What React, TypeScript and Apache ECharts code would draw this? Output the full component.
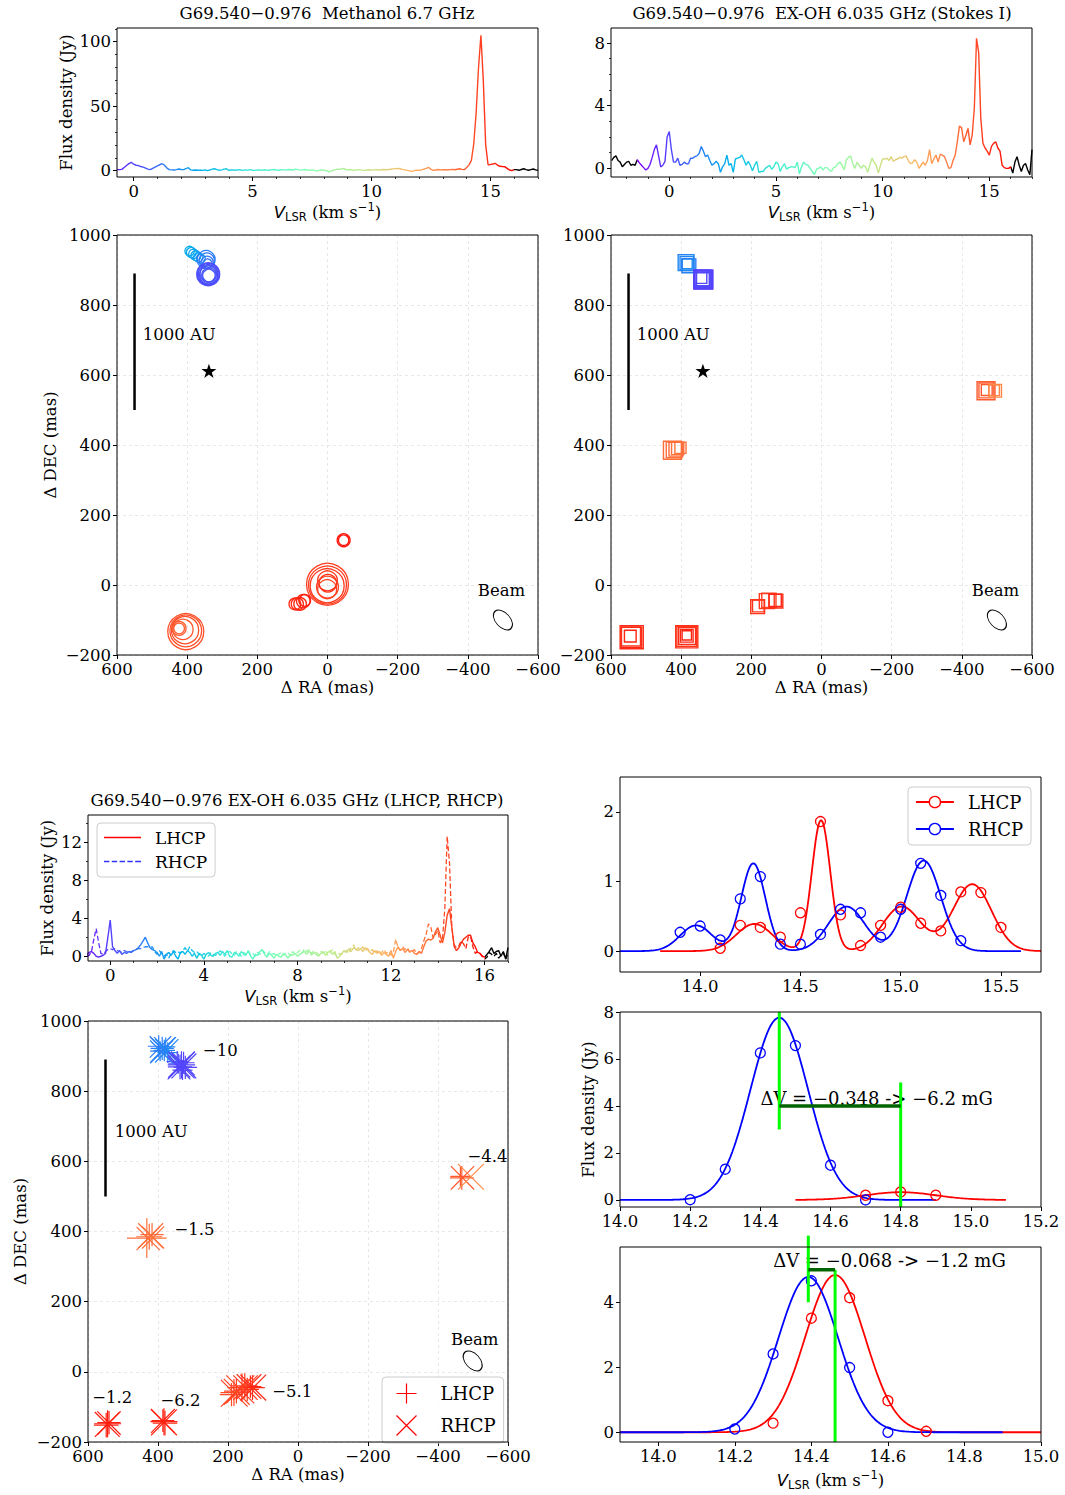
import React, { useEffect, useRef } from 'react';
import * as echarts from 'echarts';

// ================= DATA =================
// Spectra: channel spacing and flux densities (Jy)
const CHAN_STEP = 0.1;
const METHANOL_V0 = -0.7;
const METHANOL_FLUX = [
  0.8, 0.8, 1.0, 2.5, 4.0, 5.5, 6.5, 5.0, 4.2, 4.0,
  3.2, 2.8, 2.0, 1.2, 0.8, 1.8, 2.8, 3.8, 4.6, 5.4,
  4.2, 2.0, 0.8, 0.6, 0.5, 0.8, 1.3, 0.9, 0.8, 1.6,
  2.3, 0.6, 0.3, 0.5, 0.3, 0.4, 0.2, 0.6, 0.0, 0.5,
  1.2, 1.5, 0.8, 0.3, 0.6, 1.2, 1.5, 0.3, 0.5, 0.6,
  0.3, 0.8, 0.5, 0.2, 0.6, 0.4, 0.8, 0.3, 0.2, 0.6,
  0.5, 0.2, 0.7, 0.4, 0.3, 0.6, 0.9, 0.5, 0.3, 0.8,
  0.6, 0.4, 0.9, 0.7, 0.5, 1.2, 0.8, 0.4, 0.6, 0.9,
  0.5, 0.2, 0.6, 0.3, -0.3, 0.2, 0.5, 0.4, 0.0, -0.8,
  -0.3, 0.5, 0.8, 1.2, 1.0, 1.8, 1.1, 0.6, 0.9, 0.5,
  0.3, 0.6, 0.8, 0.4, 0.2, 0.5, 0.7, 0.4, 0.6, 0.8,
  0.5, 0.6, 0.9, 0.7, 0.8, 1.1, 1.4, 1.6, 1.8, 1.5,
  1.0, 0.6, 0.2, -0.2, -0.5, 0.0, 0.4, 0.2, 0.6, 1.2,
  1.8, 2.6, 1.0, 0.3, 0.5, 0.9, 0.6, 0.7, 0.8, 0.5,
  0.8, 1.0, 0.7, 1.1, 1.5, 1.0, 0.8, 2.5, 4.5, 8.0,
  21, 45, 80, 105, 70, 20, 4.6, 4.8, 5.2, 5.7,
  4.2, 3.4, 3.2, 3.1, 1.8, 0.5, 0.0, 0.8, 0.8, 0.3,
  0.9, 1.5, 0.8, 0.3, 0.8, 1.3, 0.6, 0.3,
];
const STOKESI_V0 = -2.7;
const STOKESI_FLUX = [
  0.5, 0.7, 0.8, 0.5, 0.4, 0.1, 0.25, 0.4, 0.45, 0.2,
  0.25, 0.2, 0.55, 0.35, 0.2, 0.05, -0.1, 0.0, 0.25, 0.7,
  1.2, 1.5, 0.8, 0.1, 0.2, 0.45, 2.0, 2.35, 1.2, 0.4,
  0.4, 0.65, 0.2, 0.25, 0.4, 0.3, 0.3, 0.65, 0.65, 0.75,
  0.8, 0.95, 1.4, 1.1, 0.75, 0.85, 0.5, 0.2, 0.3, 0.45,
  0.3, -0.25, 0.1, 0.3, 0.85, 0.2, 0.3, -0.25, 0.6, 0.65,
  0.7, 0.85, 0.55, 0.2, 0.45, 0.2, -0.15, 0.2, 0.45, -0.25,
  -0.2, -0.2, 0.0, 0.1, 0.2, -0.05, 0.1, 0.4, 0.3, -0.2,
  0.1, 0.3, -0.05, 0.05, 0.1, 0.1, 0.05, 0.4, -0.35, 0.1,
  0.4, 0.25, 0.2, 0.0, -0.2, -0.4, -0.05, 0.0, 0.1, -0.1,
  0.05, 0.05, -0.1, -0.2, 0.05, 0.1, 0.3, 0.4, 0.2, -0.1,
  0.55, 0.7, 0.8, 0.3, 0.0, 0.4, 0.2, 0.0, 0.2, 0.1,
  -0.25, 0.2, 0.65, 0.4, 0.2, -0.3, 0.2, 0.6, 0.6, 0.65,
  0.5, 0.75, 0.45, 0.55, 0.6, 0.7, 0.65, 0.75, 0.8, 0.5,
  0.3, 0.35, 0.55, 0.4, 0.0, 0.2, 0.4, 0.2, 0.5, 1.2,
  0.3, 0.6, 0.85, 0.4, 0.9, 0.85, 0.75, 0.4, 0.0, 0.05,
  0.5, 0.85, 1.7, 2.7, 2.6, 1.7, 2.1, 2.55, 1.5, 2.15,
  3.9, 8.3, 7.4, 3.2, 1.6, 1.3, 1.1, 0.85, 1.4, 1.6,
  1.7, 1.3, 1.1, 0.2, 0.05, 0.0, 0.0, 0.1, -0.3, 0.4,
  0.75, 0.2, -0.2, 0.2, 0.3, -0.1, -0.4, 1.2,
];
const POL_V0 = -1.0;
const LHCP_FLUX = [
  0.2, 0.4, 0.5, 0.3, 0.0, -0.1, 0.0, 0.1, 0.3, 2.0,
  3.8, 1.0, 0.6, 0.3, 0.6, 0.2, 0.4, 0.3, 0.5, 0.4,
  0.6, 0.7, 0.9, 1.2, 1.6, 2.0, 1.4, 0.9, 0.7, 0.6,
  0.4, 0.0, 0.5, -0.3, 0.2, 0.4, 0.1, 0.5, 0.0, -0.3,
  0.4, 0.5, 0.2, 0.6, 0.4, 0.0, 0.3, -0.2, 0.3, 0.1,
  -0.3, 0.2, 0.4, 0.1, 0.0, 0.3, 0.4, 0.1, 0.5, 0.2,
  0.6, 0.0, -0.1, 0.4, 0.3, 0.0, 0.5, 0.2, 0.1, 0.6,
  0.0, -0.3, 0.2, 0.1, 0.5, 0.7, 0.2, -0.1, 0.3, 0.1,
  -0.2, 0.2, 0.0, -0.1, 0.3, 0.1, -0.2, 0.2, 0.1, 0.3,
  0.0, 0.2, 0.4, 0.5, 0.2, 0.6, 0.1, 0.4, 0.2, 0.0,
  0.3, 0.5, 0.1, 0.4, 0.6, 0.2, 0.5, -0.2, 0.0, 0.3,
  0.6, 0.4, 0.8, 0.5, 0.9, 0.7, 0.6, 0.8, 0.5, 0.9,
  0.7, 0.4, 0.2, 0.6, 0.3, 0.5, 0.1, 0.4, 0.2, 0.0,
  0.6, -0.2, 0.5, 1.0, 0.6, 0.8, 0.4, 0.7, 0.5, 0.6,
  0.3, 0.2, 0.5, 0.3, 1.0, 1.6, 1.8, 1.7, 1.9, 2.6,
  3.0, 2.2, 1.4, 2.5, 4.3, 5.0, 3.0, 1.0, 0.6, 0.9,
  1.4, 1.8, 2.0, 2.2, 2.2, 1.4, 1.0, 0.4, 0.3, 0.0,
  -0.1, 0.2, 0.5, 0.9, 0.3, 0.5, 0.6, 0.0, 0.5, -0.3,
  0.9,
];
const RHCP_FLUX = [
  0.0, 0.1, 0.5, 1.8, 2.9, 1.5, 0.3, 0.2, 0.5, 0.7,
  0.8, 0.7, 0.8, 0.6, 0.5, 0.4, 0.6, 0.5, 0.3, 0.5,
  0.6, 0.7, 0.8, 0.8, 0.9, 1.0, 1.0, 0.9, 1.0, 0.5,
  0.2, 0.6, 0.3, 0.0, 0.2, -0.2, 0.3, 0.6, 0.4, 0.5,
  0.3, 0.6, 0.9, 0.5, 1.0, 0.6, 0.4, 0.5, 0.2, 0.0,
  0.3, 0.1, 0.0, 0.4, 0.2, 0.1, 0.3, 0.6, 0.3, 0.0,
  0.4, 0.5, 0.3, 0.1, 0.5, 0.3, 0.0, 0.4, 0.2, 0.5,
  0.1, 0.3, 0.0, 0.4, 0.2, 0.6, 0.4, 0.1, 0.5, 0.2,
  0.3, 0.0, 0.2, 0.4, 0.1, 0.3, 0.4, 0.0, 0.5, 0.2,
  0.4, 0.6, 0.3, 0.8, 0.5, 0.7, 0.3, 0.6, 0.4, 0.2,
  0.5, 0.3, 0.6, 0.1, 0.4, 0.7, 0.2, 0.0, 0.3, 0.2,
  0.4, 0.6, 0.3, 0.9, 1.2, 0.6, 0.9, 0.7, 1.0, 0.6,
  0.8, 0.5, 0.7, 0.3, 0.6, 0.2, 0.4, 0.7, 0.3, 0.5,
  0.1, 0.4, 1.8, 0.9, 0.6, 1.0, 0.7, 0.9, 0.4, 0.5,
  0.7, 0.2, 0.4, 0.8, 1.6, 2.3, 3.4, 3.1, 1.9, 2.3,
  2.7, 1.4, 1.8, 5.0, 12.6, 9.8, 3.0, 1.2, 0.9, 1.1,
  1.6, 1.3, 0.8, 2.0, 2.1, 1.0, 0.3, 0.5, 0.3, 0.0,
  -0.3, -0.1, 0.4, 0.2, 0.0, 0.3, -0.2, 0.1, 0.4, -0.3,
  0.3,
];

// Spot maps: [dRA (mas), dDEC (mas), Vlsr (km/s), flux (Jy)]
const METHANOL_SPOTS = [
  [393, 954, 2.7, 1.6], [388, 950, 2.6, 1.9], [382, 946, 2.5, 1.6], [375, 941, 2.4, 1.9], [368, 936, 2.3, 1.5], [361, 932, 2.2, 1.2],
  [346, 930, 1.4, 13], [344, 927, 1.3, 8], [343, 922, 1.2, 4], [342, 918, 1.1, 1.5],
  [340, 888, 0.2, 25], [340, 888, 0.25, 21], [340, 887, 0.3, 17], [339, 886, 0.15, 13], [340, 889, 0.35, 10], [338, 885, 0.4, 7], [338, 884, 0.45, 4.5],
  [-46, 128, 15.6, 4.9], [-46, 128, 15.5, 2.3],
  [0, 2, 14.6, 105], [0, 0, 14.65, 84], [1, -2, 14.7, 65], [0, 12, 14.8, 17], [-1, 5, 14.9, 12], [0, -6, 14.55, 22], [1, -12, 14.5, 15],
  [93, -54, 14.9, 3.5], [86, -54, 15.0, 4], [78, -54, 15.1, 4.5], [69, -46, 15.2, 5.5], [65, -44, 15.3, 3.5],
  [404, -133, 14.2, 74], [404, -131, 14.25, 55], [406, -129, 14.3, 38], [412, -127, 14.1, 18], [423, -124, 14.0, 6], [423, -124, 13.9, 2.5],
];
const OH_SPOTS = [
  [386, 921, 1.7, 3.2], [384, 919, 1.6, 1.8], [383, 918, 1.8, 0.5], [378, 912, 1.5, 2.0], [381, 915, 1.6, 1.0],
  [337, 873, 0.0, 5.8], [338, 874, 0.05, 4.2], [339, 875, -0.05, 2.8], [345, 880, 0.1, 1.4], [342, 877, 0.2, 3.0], [336, 872, -0.1, 4.8], [337, 873, 0.1, 1.8],
  [-469, 555, 14.0, 4.8], [-470, 556, 13.9, 2.6], [-471, 557, 14.1, 0.7], [-495, 555, 12.8, 1.4], [-492, 556, 12.9, 0.6],
  [425, 385, 13.5, 4.8], [420, 386, 13.4, 3.2], [415, 388, 13.6, 2.0], [402, 392, 13.3, 0.8], [410, 390, 13.5, 1.2],
  [182, -62, 14.8, 2.0], [180, -60, 14.9, 1.0], [156, -46, 14.7, 2.6], [150, -44, 14.6, 2.2], [130, -46, 15.0, 2.0], [132, -44, 15.1, 1.2],
  [541, -149, 15.0, 10.2], [542, -150, 15.1, 7.4], [543, -147, 14.9, 5.8], [545, -146, 15.2, 1.0],
  [384, -148, 14.9, 9.0], [384, -147, 14.8, 6.5], [383, -146, 15.0, 4.0], [384, -145, 15.1, 1.4], [384, -144, 15.2, 0.3],
];
const LHCP_SPOTS = [
  [388, 922, 1.5, 2.0], [382, 916, 1.6, 1.4], [394, 914, 1.4, 1.0], [378, 926, 1.7, 0.8], [398, 928, 1.3, 1.5], [372, 910, 1.8, 1.2],
  [333, 875, 0.0, 3.7], [337, 869, 0.1, 2.4], [327, 881, -0.1, 1.6], [342, 878, 0.2, 1.0], [322, 868, 0.05, 2.0], [345, 884, 0.15, 1.4], [330, 860, 0.0, 1.0],
  [-468, 553, 13.9, 2.2], [-464, 557, 14.0, 1.0],
  [425, 385, 13.5, 3.0], [432, 381, 13.4, 12.0], [417, 391, 13.6, 2.0],
  [183, -59, 14.4, 3.5], [176, -55, 14.5, 2.5], [160, -45, 14.6, 4.5], [152, -40, 14.7, 2.8], [130, -45, 15.0, 2.5], [136, -42, 15.2, 1.6], [190, -65, 14.3, 2.0], [145, -50, 14.8, 2.0],
  [544, -148, 15.3, 3.5], [540, -145, 15.4, 2.0], [548, -152, 15.2, 2.5],
  [383, -142, 15.2, 3.5], [386, -139, 15.3, 1.8], [380, -146, 15.1, 2.5],
];
const RHCP_SPOTS = [
  [386, 918, 1.5, 2.5], [380, 923, 1.6, 1.5], [393, 926, 1.4, 1.4], [375, 915, 1.7, 2.0], [390, 912, 1.5, 1.8],
  [333, 874, 0.0, 3.2], [329, 879, 0.1, 2.2], [339, 870, -0.1, 1.5], [326, 872, 0.05, 2.6], [340, 866, 0.15, 1.8],
  [-470, 553, 14.0, 2.0], [-494, 556, 12.8, 3.0],
  [421, 388, 13.5, 2.6], [414, 383, 13.4, 1.6], [428, 380, 13.6, 2.0],
  [182, -61, 14.4, 3.4], [165, -50, 14.5, 4.0], [150, -45, 14.6, 2.4], [128, -45, 15.1, 3.0], [175, -57, 14.45, 3.0], [140, -42, 14.9, 2.5],
  [545, -150, 15.3, 2.6], [540, -146, 15.4, 2.0],
  [383, -144, 15.2, 3.0], [386, -140, 15.3, 2.2],
];
const STAR_POS = [338, 612];
const SCALE_BAR = [[550, 500], [550, 890]];
const BEAM_POS = [-500, -100];
const BEAM_LABEL_POS = [-496, -16];
const AU_LABEL_POS = [527, 717];
const BEAM_POS_POL = [-499, 31];
const BEAM_LABEL_POS_POL = [-505, 93];
const AU_LABEL_POS_POL = [524, 685];
// Zeeman B-field labels (mG) and their positions
const B_FIELD = [-10, -4.4, -1.5, -5.1, -1.2, -6.2];
const B_FIELD_RA = [272, -484, 353, 74, 588, 393];
const B_FIELD_DEC = [915, 615, 406, -55, -74, -83];

// Gaussian fits panel 1 (channels, fluxes, Gaussian components)
const FIT1_LHCP_V = [14.1, 14.2, 14.3, 14.4, 14.5, 14.6, 14.7, 14.8, 14.9, 15.0, 15.1, 15.2, 15.3, 15.4, 15.5];
const FIT1_LHCP_F = [0.04, 0.37, 0.34, 0.2, 0.55, 1.86, 0.52, 0.08, 0.37, 0.63, 0.4, 0.29, 0.85, 0.84, 0.34];
const FIT1_RHCP_V = [13.9, 14.0, 14.1, 14.2, 14.3, 14.4, 14.5, 14.6, 14.7, 14.8, 14.9, 15.0, 15.1, 15.2, 15.3];
const FIT1_RHCP_F = [0.27, 0.36, 0.16, 0.75, 1.07, 0.1, 0.1, 0.24, 0.6, 0.55, 0.2, 0.6, 1.26, 0.8, 0.15];
const FIT1_LHCP_AMP = [0.39, 1.88, 0.64, 0.96];
const FIT1_LHCP_CEN = [14.27, 14.603, 15.005, 15.357];
const FIT1_LHCP_SIG = [0.09, 0.046, 0.095, 0.096];
const FIT1_RHCP_AMP = [0.37, 1.26, 0.64, 1.30];
const FIT1_RHCP_CEN = [13.98, 14.265, 14.73, 15.115];
const FIT1_RHCP_SIG = [0.08, 0.06, 0.091, 0.085];
// panel 2
const FIT2_RHCP_V = [14.2, 14.3, 14.4, 14.5, 14.6, 14.7];
const FIT2_RHCP_F = [0.01, 1.31, 6.26, 6.57, 1.48, 0.0];
const FIT2_LHCP_V = [14.7, 14.8, 14.9];
const FIT2_LHCP_F = [0.2, 0.34, 0.2];
const FIT2_RHCP_G = [7.76, 14.454, 0.082];
const FIT2_LHCP_G = [0.33, 14.80, 0.10];
// panel 3
const FIT3_RHCP_V = [14.2, 14.3, 14.4, 14.5, 14.6];
const FIT3_RHCP_F = [0.1, 2.41, 4.66, 1.99, 0.0];
const FIT3_LHCP_V = [14.3, 14.4, 14.5, 14.6, 14.7];
const FIT3_LHCP_F = [0.28, 3.51, 4.14, 0.97, 0.03];
const FIT3_RHCP_G = [4.78, 14.392, 0.078];
const FIT3_LHCP_G = [4.84, 14.462, 0.078];
const DV_TEXT_2 = 'ΔV = −0.348 -> −6.2 mG';
const DV_TEXT_3 = 'ΔV = −0.068 -> −1.2 mG';

// Ticks
const TICKS_METH_X = [0, 5, 10, 15];
const TICKS_METH_XM = [1, 2, 3, 4, 6, 7, 8, 9, 11, 12, 13, 14, 16, 17];
const TICKS_METH_Y = [0, 50, 100];
const TICKS_METH_YM = [10, 20, 30, 40, 60, 70, 80, 90, 110];
const TICKS_SI_X = [0, 5, 10, 15];
const TICKS_SI_XM = [-2, -1, 1, 2, 3, 4, 6, 7, 8, 9, 11, 12, 13, 14, 16, 17];
const TICKS_SI_Y = [0, 4, 8];
const TICKS_SI_YM = [1, 2, 3, 5, 6, 7];
const TICKS_POL_X = [0, 4, 8, 12, 16];
const TICKS_POL_XM = [1, 2, 3, 5, 6, 7, 9, 10, 11, 13, 14, 15, 17];
const TICKS_POL_Y = [0, 4, 8, 12];
const TICKS_POL_YM = [2, 6, 10, 14];
const TICKS_RA = [-600, -400, -200, 0, 200, 400, 600];
const TICKS_DEC = [-200, 0, 200, 400, 600, 800, 1000];
const TICKS_F1_X = [14.0, 14.5, 15.0, 15.5];
const TICKS_F1_Y = [0, 1, 2];
const TICKS_F2_X = [14.0, 14.2, 14.4, 14.6, 14.8, 15.0, 15.2];
const TICKS_F2_Y = [0, 2, 4, 6, 8];
const TICKS_F3_X = [14.0, 14.2, 14.4, 14.6, 14.8, 15.0];
const TICKS_F3_Y = [0, 2, 4];

// ================= STYLE / HELPERS =================
const FONT = 'DejaVu Serif';
const SANS = 'DejaVu Sans';
const FS = 16.5;
const RAINBOW = ['#8000ff', '#4062fa', '#00b4ec', '#40ecd4', '#80ffb4', '#bfec8e', '#ffb462', '#ff6232', '#ff0000'];
const V_MIN = -1.5;
const V_MAX = 16;
const COLOR_STEP = 0.1;

const STAR_SYMBOL = 'path://M0,-1L0.2245,-0.309L0.951,-0.309L0.363,0.118L0.588,0.809L0,0.382L-0.588,0.809L-0.363,0.118L-0.951,-0.309L-0.2245,-0.309Z';
const ELLIPSE_SYMBOL = 'path://M0,-1C0.552,-1,1,-0.552,1,0C1,0.552,0.552,1,0,1C-0.552,1,-1,0.552,-1,0C-1,-0.552,-0.552,-1,0,-1Z';
const PLUS_SYMBOL = 'path://M0,-1L0,1M-1,0L1,0';
const CROSS_SYMBOL = 'path://M-1,-1L1,1M-1,1L1,-1';
const LEGEND_SOLID = 'path://M0,0L38,0L38,1.5L0,1.5Z';
const LEGEND_DASHED = 'path://M0,0L5.5,0L5.5,1.5L0,1.5ZM8,0L13.5,0L13.5,1.5L8,1.5ZM16,0L21.5,0L21.5,1.5L16,1.5ZM24,0L29.5,0L29.5,1.5L24,1.5ZM32,0L38,0L38,1.5L32,1.5Z';

const fmt = (v: number, dec: number) => {
  const s = v.toFixed(dec);
  return s.charAt(0) === '-' ? '\u2212' + s.slice(1) : s;
};

function hexRgb(h: string) {
  return [parseInt(h.slice(1, 3), 16), parseInt(h.slice(3, 5), 16), parseInt(h.slice(5, 7), 16)];
}
function velColor(v: number) {
  let t = (v - V_MIN) / (V_MAX - V_MIN);
  t = Math.max(0, Math.min(1, t));
  const p = t * (RAINBOW.length - 1);
  const i = Math.min(Math.floor(p), RAINBOW.length - 2);
  const f = p - i;
  const a = hexRgb(RAINBOW[i]);
  const b = hexRgb(RAINBOW[i + 1]);
  const c = a.map((x, k) => Math.round(x + (b[k] - x) * f));
  return `rgb(${c[0]},${c[1]},${c[2]})`;
}
function velocityPieces() {
  const pieces: any[] = [{ lt: V_MIN, color: '#000000' }];
  const n = Math.round((V_MAX - V_MIN) / COLOR_STEP);
  for (let k = 0; k < n; k++) {
    const a = Math.round((V_MIN + k * COLOR_STEP) * 100) / 100;
    const b = Math.round((V_MIN + (k + 1) * COLOR_STEP) * 100) / 100;
    pieces.push({ gte: a, lt: b, color: velColor((a + b) / 2) });
  }
  pieces.push({ gte: V_MAX, color: '#000000' });
  return pieces;
}

const spec = (v0: number, flux: number[]) => flux.map((f, i) => [Math.round((v0 + i * CHAN_STEP) * 10) / 10, f]);
const pairs = (xs: number[], ys: number[]) => xs.map((x, i) => [x, ys[i]]);
function gaussCurve(from: number, to: number, amp: number[], cen: number[], sig: number[]) {
  const pts: number[][] = [];
  const n = Math.round((to - from) / 0.005);
  for (let k = 0; k <= n; k++) {
    const x = from + k * 0.005;
    let y = 0;
    for (let j = 0; j < amp.length; j++) y += amp[j] * Math.exp(-((x - cen[j]) ** 2) / (2 * sig[j] * sig[j]));
    pts.push([x, y]);
  }
  return pts;
}

const GRIDS = [
  { left: 117, top: 28, width: 421, height: 149 },
  { left: 611, top: 28, width: 421, height: 149 },
  { left: 117, top: 235, width: 421, height: 420 },
  { left: 611, top: 235, width: 421, height: 420 },
  { left: 88, top: 815, width: 420, height: 146 },
  { left: 88, top: 1021, width: 420, height: 421 },
  { left: 620, top: 777, width: 421, height: 195 },
  { left: 620, top: 1012, width: 421, height: 195 },
  { left: 620, top: 1247, width: 421, height: 195 },
];

const VLSR_NAME = '{i|V}{s|LSR}{n| (km s}{p|\u22121}{n|)}';
const VLSR_RICH = {
  i: { fontFamily: SANS, fontStyle: 'italic', fontSize: FS, lineHeight: 22, color: '#000' },
  s: { fontFamily: SANS, fontSize: 11.5, verticalAlign: 'bottom', color: '#000' },
  n: { fontFamily: FONT, fontSize: FS, lineHeight: 22, color: '#000' },
  p: { fontFamily: SANS, fontSize: 11.5, verticalAlign: 'top', color: '#000' },
};

function axis(kind: 'x' | 'y', grid: number, min: number, max: number, ticks: number[], dec: number, o: any = {}) {
  const a: any = {
    type: 'value', gridIndex: grid, min, max,
    position: kind === 'x' ? 'bottom' : 'left',
    inverse: !!o.inverse,
    axisLine: { show: false, onZero: false },
    axisTick: { show: true, length: 4, customValues: ticks, lineStyle: { color: '#000', width: 1 } },
    axisLabel: {
      show: true, customValues: ticks, margin: 6, color: '#000',
      fontFamily: FONT, fontSize: FS, formatter: (v: number) => fmt(v, dec),
    },
    splitLine: o.grid
      ? { show: true, lineStyle: { color: '#e2e2e2', type: [3, 3], width: 0.8 } }
      : { show: false },
  };
  if (o.name) {
    a.name = o.name;
    a.nameLocation = 'middle';
    a.nameGap = o.nameGap;
    if (kind === 'y') a.nameRotate = 90;
    a.nameTextStyle = o.rich
      ? { rich: o.rich, color: '#000' }
      : { fontFamily: FONT, fontSize: FS, color: '#000' };
  }
  return a;
}
function minorAxis(kind: 'x' | 'y', grid: number, min: number, max: number, ticks: number[]) {
  return {
    type: 'value', gridIndex: grid, min, max,
    position: kind === 'x' ? 'bottom' : 'left',
    axisLine: { show: false, onZero: false },
    axisTick: { show: true, length: 2, customValues: ticks, lineStyle: { color: '#000', width: 0.8 } },
    axisLabel: { show: false },
    splitLine: { show: false },
  };
}

function buildOption() {
  const xAxis: any[] = [
    axis('x', 0, -0.7, 17, TICKS_METH_X, 0, { name: VLSR_NAME, rich: VLSR_RICH, nameGap: 24 }),
    axis('x', 1, -2.73, 17, TICKS_SI_X, 0, { name: VLSR_NAME, rich: VLSR_RICH, nameGap: 24 }),
    axis('x', 2, -600, 600, TICKS_RA, 0, { inverse: true, grid: true, name: 'Δ RA (mas)', nameGap: 24 }),
    axis('x', 3, -600, 600, TICKS_RA, 0, { inverse: true, grid: true, name: 'Δ RA (mas)', nameGap: 24 }),
    axis('x', 4, -0.95, 17, TICKS_POL_X, 0, { name: VLSR_NAME, rich: VLSR_RICH, nameGap: 24 }),
    axis('x', 5, -600, 600, TICKS_RA, 0, { inverse: true, grid: true, name: 'Δ RA (mas)', nameGap: 23 }),
    axis('x', 6, 13.6, 15.7, TICKS_F1_X, 1),
    axis('x', 7, 14.0, 15.2, TICKS_F2_X, 1),
    axis('x', 8, 13.9, 15.0, TICKS_F3_X, 1, { name: VLSR_NAME, rich: VLSR_RICH, nameGap: 27 }),
    minorAxis('x', 0, -0.7, 17, TICKS_METH_XM),
    minorAxis('x', 1, -2.73, 17, TICKS_SI_XM),
    minorAxis('x', 4, -0.95, 17, TICKS_POL_XM),
  ];
  const yAxis: any[] = [
    axis('y', 0, -4.9, 110.6, TICKS_METH_Y, 0, { name: 'Flux density (Jy)', nameGap: 42 }),
    axis('y', 1, -0.55, 8.96, TICKS_SI_Y, 0),
    axis('y', 2, -200, 1000, TICKS_DEC, 0, { grid: true, name: 'Δ DEC (mas)', nameGap: 58 }),
    axis('y', 3, -200, 1000, TICKS_DEC, 0, { grid: true }),
    axis('y', 4, -0.5, 14.85, TICKS_POL_Y, 0, { name: 'Flux density (Jy)', nameGap: 32 }),
    axis('y', 5, -200, 1000, TICKS_DEC, 0, { grid: true, name: 'Δ DEC (mas)', nameGap: 59 }),
    axis('y', 6, -0.3, 2.5, TICKS_F1_Y, 0),
    axis('y', 7, -0.3, 8, TICKS_F2_Y, 0, { name: 'Flux density (Jy)', nameGap: 23 }),
    axis('y', 8, -0.3, 5.7, TICKS_F3_Y, 0),
    minorAxis('y', 0, -4.9, 110.6, TICKS_METH_YM),
    minorAxis('y', 1, -0.55, 8.96, TICKS_SI_YM),
    minorAxis('y', 4, -0.5, 14.85, TICKS_POL_YM),
  ];

  const series: any[] = [];
  const add = (s: any) => { series.push({ silent: true, animation: false, ...s }); return series.length - 1; };
  const specIdx: number[] = [];

  // ---- spectra ----
  specIdx.push(add({ type: 'line', name: 'methanol_spec', xAxisIndex: 0, yAxisIndex: 0, data: spec(METHANOL_V0, METHANOL_FLUX), symbol: 'none', lineStyle: { width: 1.4 } }));
  specIdx.push(add({ type: 'line', name: 'stokesI_spec', xAxisIndex: 1, yAxisIndex: 1, data: spec(STOKESI_V0, STOKESI_FLUX), symbol: 'none', lineStyle: { width: 1.4 } }));
  specIdx.push(add({ type: 'line', name: 'lhcp_spec', xAxisIndex: 4, yAxisIndex: 4, data: spec(POL_V0, LHCP_FLUX), symbol: 'none', lineStyle: { width: 1.4 } }));
  specIdx.push(add({ type: 'line', name: 'rhcp_spec', xAxisIndex: 4, yAxisIndex: 4, data: spec(POL_V0, RHCP_FLUX), symbol: 'none', lineStyle: { width: 1.3, type: [5, 2.5] } }));
  // legend proxies for the spectrum panel (single point outside the axis range)
  add({ type: 'line', name: 'LHCP', xAxisIndex: 4, yAxisIndex: 4, data: [[-50, -50]], symbol: 'none', itemStyle: { color: '#ff0000' }, lineStyle: { color: '#ff0000', width: 1.5 } });
  add({ type: 'line', name: 'RHCP', xAxisIndex: 4, yAxisIndex: 4, data: [[-50, -50]], symbol: 'none', itemStyle: { color: '#3030ff' }, lineStyle: { color: '#3030ff', width: 1.5, type: [5, 2.5] } });

  // ---- map helpers ----
  const textS = (g: number, items: any[], pos: string, fs = FS) => add({
    type: 'scatter', xAxisIndex: g, yAxisIndex: g, symbolSize: 0.1, itemStyle: { color: 'rgba(0,0,0,0)', opacity: 1 },
    data: items.map((it) => ({ value: [it[1], it[2]], name: it[0] })),
    label: { show: true, position: pos, distance: 0, formatter: '{b}', color: '#000', fontFamily: FONT, fontSize: fs },
    z: 4,
  });
  const mapDecor = (g: number, star: boolean, au: number[], beam: number[], beamLbl: number[]) => {
    add({ type: 'line', xAxisIndex: g, yAxisIndex: g, data: SCALE_BAR, symbol: 'none', lineStyle: { color: '#000', width: 2.5 }, z: 3 });
    if (star) add({ type: 'scatter', xAxisIndex: g, yAxisIndex: g, data: [STAR_POS], symbol: STAR_SYMBOL, symbolKeepAspect: true, symbolSize: 15, itemStyle: { color: '#000', opacity: 1 }, z: 3 });
    add({ type: 'scatter', xAxisIndex: g, yAxisIndex: g, data: [beam], symbol: ELLIPSE_SYMBOL, symbolSize: [14.5, 23.5], symbolRotate: 42, itemStyle: { color: 'none', borderColor: '#000', borderWidth: 1, opacity: 1 }, z: 3 });
    textS(g, [['1000 AU', au[0], au[1]]], 'right');
    textS(g, [['Beam', beamLbl[0], beamLbl[1]]], 'inside');
  };
  const spotData = (spots: number[][], sizeFn: (f: number) => number, bw: number) =>
    spots.map(([ra, dec, v, f]) => ({ value: [ra, dec], symbolSize: sizeFn(f), itemStyle: { color: 'none', borderColor: velColor(v), borderWidth: bw, opacity: 1 } }));

  // ---- methanol map ----
  mapDecor(2, true, AU_LABEL_POS, BEAM_POS, BEAM_LABEL_POS);
  add({ type: 'scatter', xAxisIndex: 2, yAxisIndex: 2, symbol: 'circle', data: spotData(METHANOL_SPOTS, (f) => 5 + 3.6 * Math.sqrt(f), 1.3), z: 3 });
  // ---- OH map ----
  mapDecor(3, true, AU_LABEL_POS, BEAM_POS, BEAM_LABEL_POS);
  add({ type: 'scatter', xAxisIndex: 3, yAxisIndex: 3, symbol: 'rect', data: spotData(OH_SPOTS, (f) => 6.5 + 5.2 * Math.sqrt(f), 1.4), z: 3 });
  // ---- polarisation map ----
  mapDecor(5, false, AU_LABEL_POS_POL, BEAM_POS_POL, BEAM_LABEL_POS_POL);
  const polSize = (f: number) => 12 + 8 * Math.sqrt(f);
  add({ type: 'scatter', name: 'LHCP ', xAxisIndex: 5, yAxisIndex: 5, symbol: PLUS_SYMBOL, itemStyle: { color: 'none', borderColor: '#ff0000', borderWidth: 1.2, opacity: 1 }, data: spotData(LHCP_SPOTS, polSize, 1.2), z: 3 });
  add({ type: 'scatter', name: 'RHCP ', xAxisIndex: 5, yAxisIndex: 5, symbol: CROSS_SYMBOL, itemStyle: { color: 'none', borderColor: '#ff0000', borderWidth: 1.2, opacity: 1 }, data: spotData(RHCP_SPOTS, polSize, 1.2), z: 3 });
  textS(5, B_FIELD.map((b, i) => [fmt(b, Number.isInteger(b) ? 0 : 1), B_FIELD_RA[i], B_FIELD_DEC[i]]), 'right');

  // ---- fit panels ----
  const curve = (g: number, pts: number[][], color: string, z = 3) => add({ type: 'line', xAxisIndex: g, yAxisIndex: g, data: pts, symbol: 'none', lineStyle: { color, width: 1.8 }, z });
  const pts = (g: number, d: number[][], color: string) => add({ type: 'scatter', xAxisIndex: g, yAxisIndex: g, data: d, symbol: 'circle', symbolSize: 10, itemStyle: { color: 'none', borderColor: color, borderWidth: 1.3, opacity: 1 }, z: 4 });
  const segLine = (g: number, d: number[][], color: string, w: number) => add({ type: 'line', xAxisIndex: g, yAxisIndex: g, data: d, symbol: 'none', lineStyle: { color, width: w }, clip: false, z: 6 });

  // panel 1
  curve(6, gaussCurve(13.8, 15.7, FIT1_LHCP_AMP, FIT1_LHCP_CEN, FIT1_LHCP_SIG), '#ff0000');
  curve(6, gaussCurve(13.6, 15.6, FIT1_RHCP_AMP, FIT1_RHCP_CEN, FIT1_RHCP_SIG), '#0000ff');
  pts(6, pairs(FIT1_LHCP_V, FIT1_LHCP_F), '#ff0000');
  pts(6, pairs(FIT1_RHCP_V, FIT1_RHCP_F), '#0000ff');
  add({ type: 'line', name: 'LHCP  ', xAxisIndex: 6, yAxisIndex: 6, data: [], symbol: 'circle', symbolSize: 10, itemStyle: { color: '#ffffff', borderColor: '#ff0000', borderWidth: 1.3 }, lineStyle: { color: '#ff0000', width: 1.8 } });
  add({ type: 'line', name: 'RHCP  ', xAxisIndex: 6, yAxisIndex: 6, data: [], symbol: 'circle', symbolSize: 10, itemStyle: { color: '#ffffff', borderColor: '#0000ff', borderWidth: 1.3 }, lineStyle: { color: '#0000ff', width: 1.8 } });

  // panel 2
  textS(7, [[DV_TEXT_2, 14.40, 4.3]], 'right', 18);
  curve(7, gaussCurve(14.0, 14.9, [FIT2_RHCP_G[0]], [FIT2_RHCP_G[1]], [FIT2_RHCP_G[2]]), '#0000ff');
  curve(7, gaussCurve(14.5, 15.1, [FIT2_LHCP_G[0]], [FIT2_LHCP_G[1]], [FIT2_LHCP_G[2]]), '#ff0000');
  pts(7, pairs(FIT2_RHCP_V, FIT2_RHCP_F), '#0000ff');
  pts(7, pairs(FIT2_LHCP_V, FIT2_LHCP_F), '#ff0000');
  segLine(7, [[FIT2_RHCP_G[1], 3], [FIT2_RHCP_G[1], 8]], '#00ff00', 3);
  segLine(7, [[FIT2_LHCP_G[1], -0.3], [FIT2_LHCP_G[1], 5]], '#00ff00', 3);
  segLine(7, [[FIT2_RHCP_G[1], 4], [FIT2_LHCP_G[1], 4]], '#006400', 3.5);

  // panel 3
  textS(8, [[DV_TEXT_3, 14.30, 5.3]], 'right', 18);
  curve(8, gaussCurve(13.9, 15.0, [FIT3_LHCP_G[0]], [FIT3_LHCP_G[1]], [FIT3_LHCP_G[2]]), '#ff0000');
  curve(8, gaussCurve(13.9, 14.9, [FIT3_RHCP_G[0]], [FIT3_RHCP_G[1]], [FIT3_RHCP_G[2]]), '#0000ff');
  pts(8, pairs(FIT3_RHCP_V, FIT3_RHCP_F), '#0000ff');
  pts(8, pairs(FIT3_LHCP_V, FIT3_LHCP_F), '#ff0000');
  segLine(8, [[FIT3_RHCP_G[1], 4], [FIT3_RHCP_G[1], 6.05]], '#00ff00', 3);
  segLine(8, [[FIT3_LHCP_G[1], -0.3], [FIT3_LHCP_G[1], 5]], '#00ff00', 3);
  segLine(8, [[FIT3_RHCP_G[1], 5], [FIT3_LHCP_G[1], 5]], '#006400', 3.5);

  const titleStyle = { fontFamily: FONT, fontSize: FS, fontWeight: 'normal', color: '#000' };
  const legendBase = {
    orient: 'vertical', selectedMode: false, borderColor: '#cccccc', borderWidth: 1, borderRadius: 4,
    backgroundColor: 'rgba(255,255,255,0.8)', formatter: (n: string) => n.trim(),
  };

  return {
    animation: false,
    backgroundColor: '#ffffff',
    title: [
      { text: 'G69.540\u22120.976  Methanol 6.7 GHz', left: 327, top: 5, textAlign: 'center', padding: 0, textStyle: titleStyle },
      { text: 'G69.540\u22120.976  EX-OH 6.035 GHz (Stokes I)', left: 822, top: 5, textAlign: 'center', padding: 0, textStyle: titleStyle },
      { text: 'G69.540\u22120.976 EX-OH 6.035 GHz (LHCP, RHCP)', left: 297, top: 792, textAlign: 'center', padding: 0, textStyle: titleStyle },
    ],
    grid: GRIDS.map((g) => ({ ...g, show: true, z: 10, borderColor: '#000', borderWidth: 1, backgroundColor: 'rgba(0,0,0,0)', containLabel: false })),
    xAxis, yAxis,
    visualMap: [{
      type: 'piecewise', show: false, dimension: 0, seriesIndex: specIdx, pieces: velocityPieces(),
      outOfRange: { color: '#000000' },
    }],
    legend: [
      {
        ...legendBase, left: 97, top: 823,
        data: [{ name: 'LHCP', icon: LEGEND_SOLID }, { name: 'RHCP', icon: LEGEND_DASHED }],
        symbolKeepAspect: true, itemWidth: 37, itemHeight: 14, itemGap: 7,
        padding: [6, 8, 7, 7], textStyle: { fontFamily: FONT, fontSize: 17, color: '#000', padding: [0, 0, 0, 9] },
        itemStyle: { borderWidth: 0 },
      },
      {
        ...legendBase, left: 382, top: 1377, data: ['LHCP ', 'RHCP '], itemWidth: 20, itemHeight: 20, itemGap: 7,
        padding: [4, 8, 5, 12], textStyle: { fontFamily: FONT, fontSize: 18, color: '#000', padding: [0, 0, 0, 19] },
        itemStyle: { borderWidth: 1.2 },
      },
      {
        ...legendBase, left: 908, top: 787, data: ['LHCP  ', 'RHCP  '], itemWidth: 38, itemHeight: 14, itemGap: 9,
        padding: [6, 8, 7, 7], textStyle: { fontFamily: FONT, fontSize: 18, color: '#000', padding: [0, 0, 0, 9] },
        itemStyle: { borderWidth: 1.3 }, lineStyle: { width: 1.8 },
      },
    ],
    series,
  };
}

export default function App() {
  const ref = useRef<HTMLDivElement>(null);
  useEffect(() => {
    if (!ref.current) return;
    const chart = echarts.init(ref.current, undefined, { renderer: 'svg' });
    chart.setOption(buildOption() as any);
    return () => chart.dispose();
  }, []);
  return (
    <div
      ref={ref}
      style={{ position: 'absolute', left: 0, top: 0, width: 1065, height: 1495, background: '#fff' }}
    />
  );
}
